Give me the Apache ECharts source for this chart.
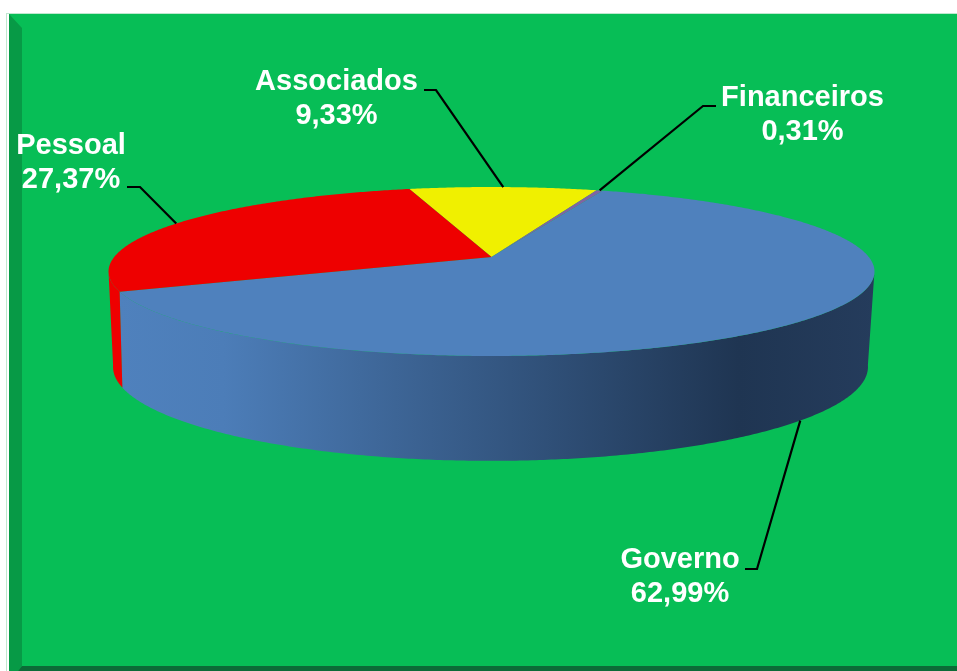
<!DOCTYPE html>
<html>
<head>
<meta charset="utf-8">
<style>html,body{margin:0;padding:0;background:#fff}#c{width:957px;height:671px}</style>
<script src="https://cdn.jsdelivr.net/npm/echarts@6/dist/echarts.min.js"></script>
</head>
<body>
<div id="c"></div>
<script>
// Data (clockwise from the start angle)
var categories = ['Associados', 'Financeiros', 'Governo', 'Pessoal'];
var shares = [9.33, 0.31, 62.99, 27.37];
var colors = ['#F0F000', '#8064A2', '#4F81BD', '#EE0000'];

// Projected disc geometry
var START = -14.7;
var TOP = { cx: 491.5, cy: 257, a: 377.3, b: 82, p: 0.1716 };
var BOT = { cx: 490.5, cy: 349, a: 370.6, b: 90.6, p: 0.19 };
var LABELS = [
  { x: 336.5, y: 99, elbow: [[424, 90], [436, 90]], ring: TOP },
  { x: 802.5, y: 114.5, elbow: [[716, 106], [703, 106]], ring: TOP },
  { x: 680, y: 577, elbow: [[745, 569], [757, 569]], ring: BOT },
  { x: 71, y: 163, elbow: [[127, 187], [140, 187]], ring: TOP }
];

function pt(ring, deg) {
  var t = deg * Math.PI / 180, u = Math.sin(t), v = Math.cos(t), w = 1 + ring.p * v;
  return [ring.cx + ring.a * u / w, ring.cy - ring.b * v / w];
}
function arc(ring, from, to) {
  var out = [], n = Math.max(2, Math.ceil(Math.abs(to - from) * 2));
  for (var i = 0; i <= n; i++) out.push(pt(ring, from + (to - from) * i / n));
  return out;
}
var total = shares.reduce(function (s, v) { return s + v; }, 0);
function span(idx) {
  var acc = 0;
  for (var i = 0; i < idx; i++) acc += shares[i];
  return [START + acc / total * 360, START + (acc + shares[idx]) / total * 360];
}
// Angles where the disc's outline turns from back to front
var sideFrom = Math.acos(-TOP.p) * 180 / Math.PI;
var sideTo = 360 - sideFrom;

var blueSide = {
  type: 'linear', global: true, x: 118, y: 0, x2: 875, y2: 0,
  colorStops: [
    { offset: 0, color: '#4F81BD' },
    { offset: 0.14, color: '#4C7DB8' },
    { offset: 0.82, color: '#1F3552' },
    { offset: 1, color: '#253C5C' }
  ]
};

function renderItem(params, api) {
  var idx = params.dataIndex, s = span(idx), children = [];
  var from = Math.max(s[0], sideFrom), to = Math.min(s[1], sideTo);
  if (to > from) {
    children.push({
      type: 'polygon', z2: 1, silent: true,
      shape: { points: arc(TOP, from, to).concat(arc(BOT, to, from)) },
      style: { fill: idx === 2 ? blueSide : api.visual('color') }
    });
  }
  children.push({
    type: 'polygon', z2: 5, silent: true,
    shape: { points: [[TOP.cx, TOP.cy]].concat(arc(TOP, s[0], s[1])) },
    style: { fill: api.visual('color') }
  });
  var L = LABELS[idx], mid = (s[0] + s[1]) / 2;
  children.push({
    type: 'polyline', z2: 8, silent: true,
    shape: { points: L.elbow.concat([pt(L.ring, mid)]) },
    style: { stroke: '#000', lineWidth: 2.2, fill: null }
  });
  children.push({
    type: 'text', z2: 9, silent: true,
    style: {
      x: L.x, y: L.y,
      text: categories[idx] + '\n' + api.value(0).toFixed(2).replace('.', ',') + '%',
      fill: '#fff', font: 'bold 29px "Liberation Sans", Arial, sans-serif',
      lineHeight: 34, align: 'center', verticalAlign: 'middle'
    }
  });
  return { type: 'group', children: children };
}

var chart = echarts.init(document.getElementById('c'), null, { renderer: 'canvas' });
chart.setOption({
  animation: false,
  backgroundColor: '#fff',
  graphic: [
    { type: 'rect', z: -10, shape: { x: 6, y: 13, width: 951, height: 658 }, style: { fill: '#BFE8CF' } },
    { type: 'rect', z: -10, shape: { x: 7, y: 14, width: 950, height: 657 }, style: { fill: '#fff' } },
    { type: 'rect', z: -9, shape: { x: 9, y: 14, width: 948, height: 657 }, style: { fill: '#07BE56' } },
    { type: 'polygon', z: -8, shape: { points: [[9, 14], [22, 28], [22, 666], [18, 671], [9, 671]] }, style: { fill: '#079A46' } },
    { type: 'polygon', z: -8, shape: { points: [[22, 666], [957, 666], [957, 671], [18, 671]] }, style: { fill: '#0C6B37' } }
  ],
  tooltip: { show: false },
  series: [{
    type: 'custom',
    coordinateSystem: 'none',
    clip: false,
    renderItem: renderItem,
    data: shares.map(function (v, i) {
      return { name: categories[i], value: [v], itemStyle: { color: colors[i] } };
    })
  }]
});
</script>
</body>
</html>
